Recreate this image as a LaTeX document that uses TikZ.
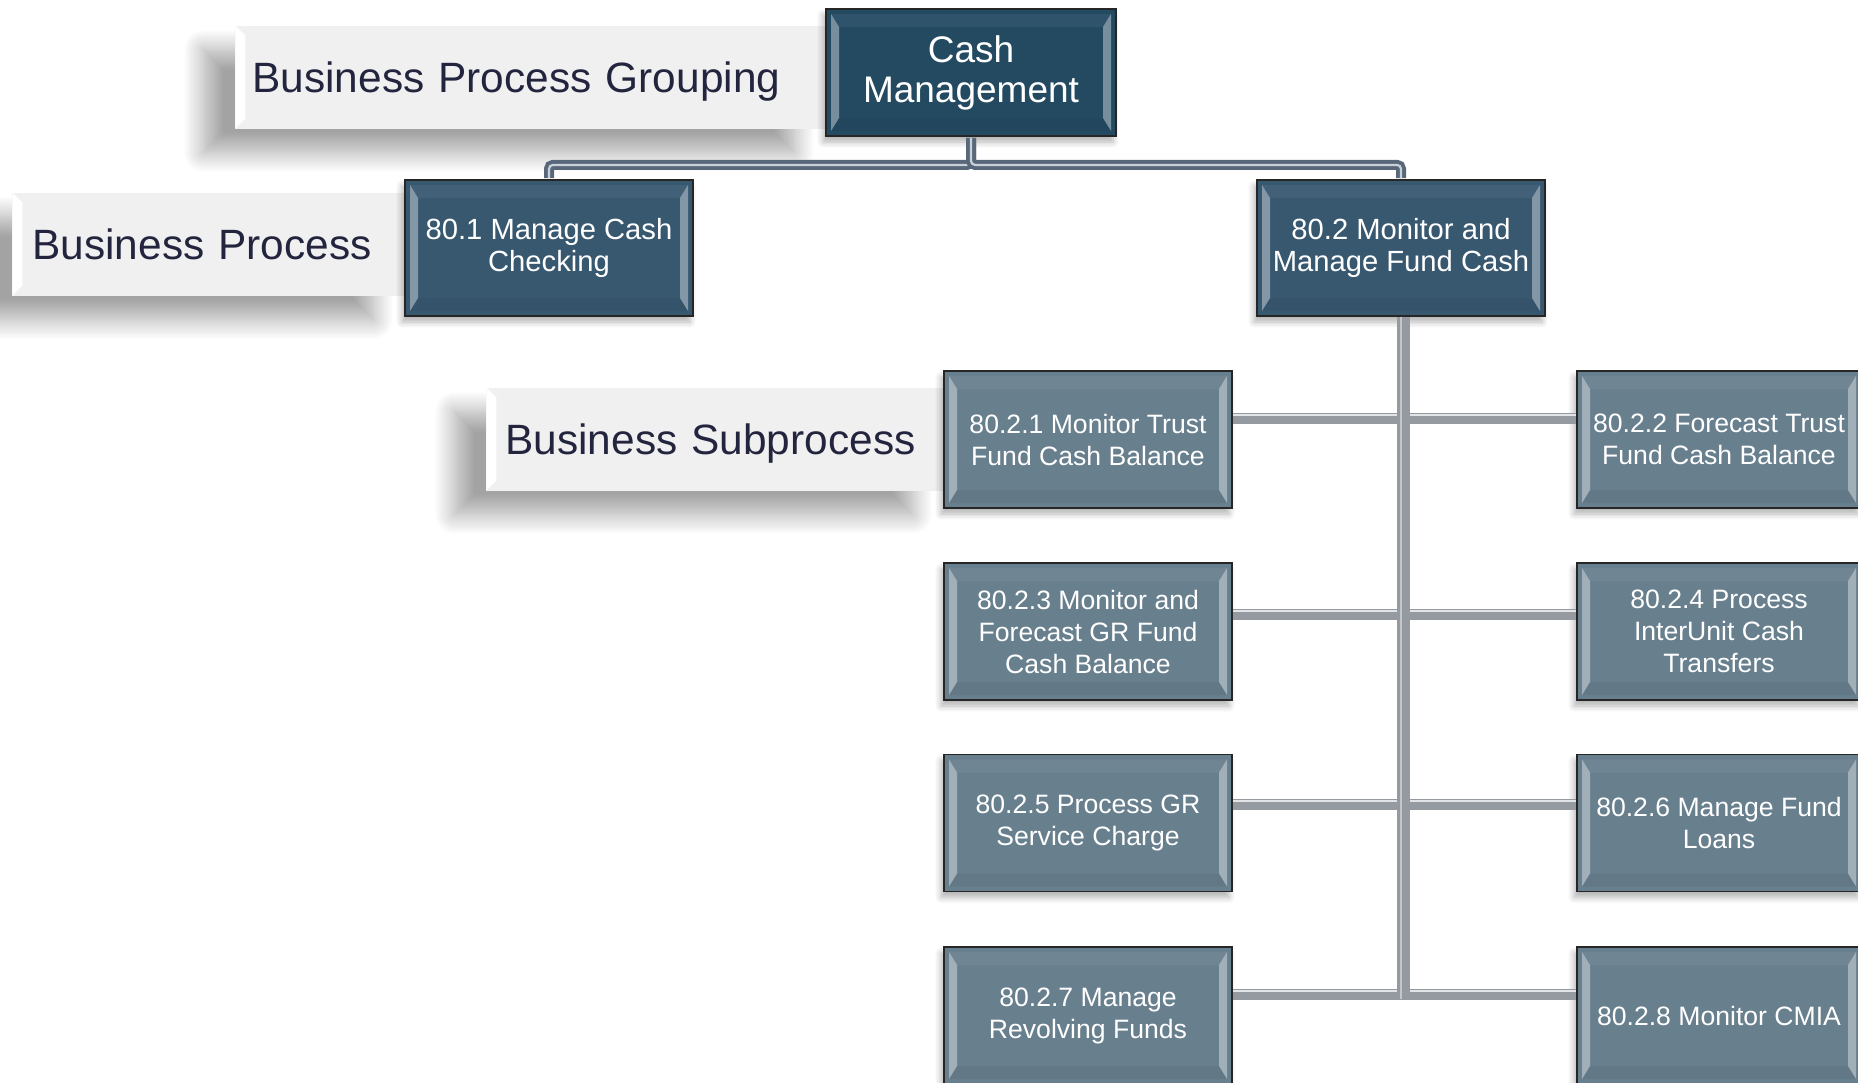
\documentclass[tikz,border=0pt]{standalone}
\usepackage{fontspec}
\setmainfont{Liberation Sans}
\usetikzlibrary{shadows.blur}
\definecolor{cmfill}{HTML}{244A62}
\definecolor{pfill}{HTML}{385870}
\definecolor{sfill}{HTML}{687F8E}
\definecolor{lblfill}{HTML}{F0F0F0}
\definecolor{lbltext}{HTML}{23253F}
\definecolor{topline}{HTML}{58687A}
\definecolor{toplight}{HTML}{C8D0D8}
\definecolor{subline}{HTML}{959AA1}
\definecolor{sublight}{HTML}{E2E4E7}
\tikzset{
  bevel/.style={path picture={
    \fill[white, fill opacity=0.38]
      ([xshift=2.5pt,yshift=-2.5pt]path picture bounding box.north west) --
      ([xshift=6.5pt,yshift=-9pt]path picture bounding box.north west) --
      ([xshift=6.5pt,yshift=9pt]path picture bounding box.south west) --
      ([xshift=2.5pt,yshift=2.5pt]path picture bounding box.south west) -- cycle;
    \fill[white, fill opacity=0.38]
      ([xshift=-2.5pt,yshift=-2.5pt]path picture bounding box.north east) --
      ([xshift=-6.5pt,yshift=-9pt]path picture bounding box.north east) --
      ([xshift=-6.5pt,yshift=9pt]path picture bounding box.south east) --
      ([xshift=-2.5pt,yshift=2.5pt]path picture bounding box.south east) -- cycle;
    \fill[white, fill opacity=0.05]
      ([xshift=2.5pt,yshift=-2.5pt]path picture bounding box.north west) --
      ([xshift=-2.5pt,yshift=-2.5pt]path picture bounding box.north east) --
      ([xshift=-6.5pt,yshift=-9pt]path picture bounding box.north east) --
      ([xshift=6.5pt,yshift=-9pt]path picture bounding box.north west) -- cycle;
    \fill[black, fill opacity=0.05]
      ([xshift=2.5pt,yshift=2.5pt]path picture bounding box.south west) --
      ([xshift=-2.5pt,yshift=2.5pt]path picture bounding box.south east) --
      ([xshift=-6.5pt,yshift=9pt]path picture bounding box.south east) --
      ([xshift=6.5pt,yshift=9pt]path picture bounding box.south west) -- cycle;
  }},
  lblbevel/.style={path picture={
    \fill[white]
      (path picture bounding box.north west) --
      ([xshift=5pt,yshift=-5pt]path picture bounding box.north west) --
      ([xshift=5pt,yshift=5pt]path picture bounding box.south west) --
      (path picture bounding box.south west) -- cycle;
    \draw[white, line width=0.6pt]
      (path picture bounding box.north west) -- (path picture bounding box.north east);
  }},
  box/.style={rectangle, draw=black!85, line width=0.9pt, text=white, align=center,
    inner sep=0pt, bevel,
    blur shadow={shadow xshift=-1.5pt, shadow yshift=-3pt, shadow blur radius=3pt, shadow blur steps=6, shadow opacity=30}},
  cmbox/.style={box, fill=cmfill, minimum width=145pt, minimum height=63.5pt,
    font=\fontsize{18.5}{20}\selectfont},
  pbox/.style={box, fill=pfill, minimum width=144pt, minimum height=68pt,
    font=\fontsize{14.6}{16}\selectfont},
  sbox/.style={box, fill=sfill, minimum width=144pt, minimum height=68.5pt,
    font=\fontsize{13.3}{16}\selectfont},
  rbox/.style={sbox, minimum width=142pt},
  lbl/.style={rectangle, fill=lblfill, text=lbltext, anchor=west, align=left,
    font=\fontsize{21.2}{25}\selectfont, minimum height=51.5pt, inner ysep=0pt,
    text depth=0pt, lblbevel,
    blur shadow={shadow xshift=-16pt, shadow yshift=-12pt, shadow blur radius=10pt, shadow blur steps=16, shadow opacity=36}},
  topconn/.style={draw=topline, line width=5pt, rounded corners=2pt,
    postaction={draw=toplight, line width=1.1pt, rounded corners=2pt}},
  subconn/.style={draw=subline, line width=5.5pt,
    postaction={draw=sublight, line width=1pt, transform canvas={yshift=1.3pt}}},
  trunk/.style={draw=subline, line width=6.5pt,
    postaction={draw=sublight!60!subline, line width=0.8pt, transform canvas={xshift=-1pt}}},
}
\begin{document}
\begin{tikzpicture}[x=0.5pt,y=-0.5pt]
\useasboundingbox (0,0) rectangle (1858,1082);
% labels
\node[lbl, text width=278.5pt, inner xsep=8.5pt] (lg) at (235,77) {Business Process Grouping};
\node[lbl, text width=176.5pt, inner xsep=10pt] (lp) at (12,244) {Business Process};
\node[lbl, text width=210pt, inner xsep=9.5pt] (ls) at (486,439) {Business Subprocess};
% boxes
\node[cmbox] (cm) at (971,72.5) {Cash\\Management};
\node[pbox] (p1) at (549,248) {80.1 Manage Cash\\Checking};
\node[pbox] (p2) at (1401,248) {80.2 Monitor and\\Manage Fund Cash};
\node[sbox] (s1) at (1088,439.5) {80.2.1 Monitor Trust\\Fund Cash Balance};
\node[rbox] (s2) at (1719,439.5) {80.2.2 Forecast Trust\\Fund Cash Balance};
\node[sbox] (s3) at (1088,631.5) {80.2.3 Monitor and\\Forecast GR Fund\\Cash Balance};
\node[rbox] (s4) at (1719,631.5) {80.2.4 Process\\InterUnit Cash\\Transfers};
\node[sbox] (s5) at (1088,823) {80.2.5 Process GR\\Service Charge};
\node[rbox] (s6) at (1719,823) {80.2.6 Manage Fund\\Loans};
\node[sbox] (s7) at (1088,1015.5) {80.2.7 Manage\\Revolving Funds};
\node[rbox] (s8) at (1719,1015.5) {80.2.8 Monitor CMIA};
% junctions
\coordinate (j1) at (1403,418);
\coordinate (j2) at (1403,614);
\coordinate (j3) at (1403,804);
\coordinate (j4) at (1403,994);
% connectors
\draw[topconn] ([yshift=-0.5pt]cm.south) -- ++(0,27) -| ([yshift=0.5pt]p1.north);
\draw[topconn] ([yshift=-0.5pt]cm.south) -- ++(0,27) -| ([yshift=0.5pt]p2.north);
\draw[subconn] (s1.east |- j1) -- (s2.west |- j1);
\draw[subconn] (s3.east |- j2) -- (s4.west |- j2);
\draw[subconn] (s5.east |- j3) -- (s6.west |- j3);
\draw[subconn] (s7.east |- j4) -- (s8.west |- j4);
\draw[trunk] (p2.south -| j1) -- ([yshift=-2.5pt]j4);
\end{tikzpicture}
\end{document}
